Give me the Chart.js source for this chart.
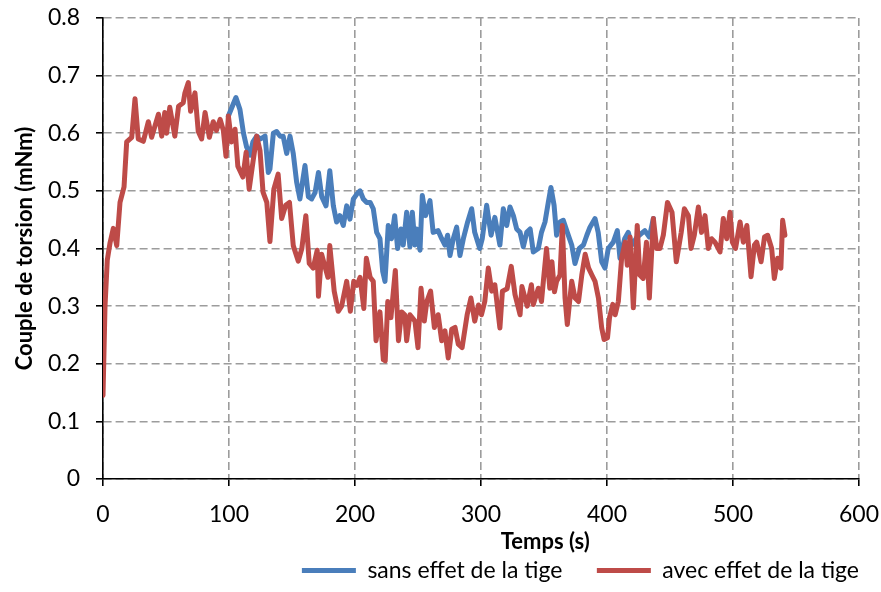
<!DOCTYPE html>
<html>
<head>
<meta charset="utf-8">
<script src="https://cdn.jsdelivr.net/npm/chart.js@4.4.1/dist/chart.umd.min.js"></script>
<style>
  body { margin: 0; background: #fff; }
  #wrap { width: 881px; height: 592px; }
</style>
</head>
<body>
<div id="wrap"><canvas id="torqueChart" width="881" height="592"></canvas></div>
<script>
// Series (time in s, torque in mNm)
const blueLabel = 'sans effet de la tige';
const redLabel = 'avec effet de la tige';

const blueTime = [99.5, 105.5, 108.7, 111.5, 114, 116.7, 119, 122, 125, 128.6, 131.2, 132.5, 135.2, 137.8, 140.5, 143, 145.8, 148.4, 151, 153.7,
  156.3, 160.3, 163, 165.6, 168.3, 171, 173.6, 177, 180, 182.8, 185.4, 188, 190.7, 193.4, 196, 198.7, 201.3, 204, 206.6, 209.3,
  212, 214.5, 217.2, 219.8, 222, 223.8, 226.4, 229, 231.5, 233.8, 236.5, 238.3, 241, 243.6, 245.5, 247.6, 249, 251.6, 253.4, 256,
  259.5, 262, 266, 268.8, 271.4, 273.5, 275.4, 278, 280.7, 283.3, 286, 289.4, 292.6, 295, 299, 301, 304.5, 308, 311, 315,
  317.7, 320.4, 323, 325.7, 328.3, 331, 333.6, 336.3, 339, 341.5, 345.5, 348, 350.8, 353.4, 355.5, 358, 360, 362.7, 365.3, 368.5,
  372, 374.6, 378, 381.3, 384, 386.5, 390.5, 393, 395.8, 398.4, 401, 405, 408.2, 410.3, 414, 416.9, 419.6, 424, 430, 433.6, 436.8];
const blueTorque = [0.63, 0.662, 0.641, 0.60, 0.576, 0.562, 0.585, 0.595, 0.59, 0.595, 0.532, 0.538, 0.60, 0.603, 0.595, 0.595, 0.565, 0.595, 0.565, 0.515,
  0.486, 0.544, 0.49, 0.486, 0.497, 0.532, 0.49, 0.474, 0.535, 0.474, 0.446, 0.457, 0.44, 0.474, 0.451, 0.486, 0.494, 0.50, 0.486, 0.48,
  0.48, 0.469, 0.428, 0.417, 0.36, 0.343, 0.44, 0.417, 0.457, 0.40, 0.434, 0.406, 0.463, 0.403, 0.463, 0.406, 0.434, 0.397, 0.492, 0.457,
  0.483, 0.428, 0.431, 0.417, 0.406, 0.423, 0.388, 0.417, 0.437, 0.388, 0.417, 0.446, 0.469, 0.428, 0.40, 0.417, 0.475, 0.423, 0.454, 0.406,
  0.469, 0.44, 0.472, 0.457, 0.434, 0.428, 0.403, 0.428, 0.434, 0.394, 0.40, 0.428, 0.446, 0.48, 0.506, 0.475, 0.423, 0.446, 0.449, 0.428,
  0.406, 0.374, 0.40, 0.406, 0.423, 0.437, 0.452, 0.428, 0.377, 0.366, 0.40, 0.411, 0.431, 0.383, 0.417, 0.428, 0.406, 0.42, 0.431, 0.42, 0.452];

const redTime = [0, 1.6, 3.4, 5.6, 8.2, 10.9, 13.5, 16.7, 18.8, 22.8, 25.4, 28, 32, 36, 38.6, 44, 46.6, 49, 50.5, 53,
  57, 60, 63.7, 65, 67.7, 69.5, 73, 75.6, 78.3, 81, 84.4, 87.5, 90, 93, 95.5, 97.6, 99.5, 102, 104.8, 107,
  111, 113.6, 116, 119, 122, 124.6, 127, 130, 132.5, 135.6, 139, 141.8, 145, 148, 151, 155, 157.8, 161, 163.7, 166.8,
  170, 171, 173.5, 176, 178.5, 180, 183.5, 186.7, 189.4, 193.4, 196.3, 199, 201.6, 204, 207, 209, 212, 214.5, 216.7, 219.8,
  222.5, 224, 226, 228.5, 232, 234.5, 237, 239.5, 241, 243.6, 247.6, 250, 252.4, 255, 257, 260, 263, 266, 268.8, 271.4,
  274, 276.8, 279.4, 282, 285, 289, 292, 295, 298, 300.4, 303, 305.8, 308.5, 311, 315, 317, 320.7, 324, 327, 331,
  332.5, 336.7, 340, 341.5, 345.5, 348, 349.7, 352, 354.6, 356.3, 358.3, 360, 362.7, 364.6, 366.7, 368.5, 372, 374.6, 377.4, 380,
  382.7, 385.4, 388, 390.5, 393.2, 395.8, 397.7, 400.4, 402, 404.6, 406.5, 409, 411.6, 414.4, 416.1, 418.3, 420.9, 424, 426, 428.7,
  431.3, 433.6, 436.8, 439.4, 442, 444.7, 448, 451.6, 455, 458.9, 461.4, 464.6, 466.7, 469.3, 472.5, 475, 477.8, 480.4, 483, 485.7,
  489.7, 492.3, 495, 497.6, 499.5, 502, 505.6, 508.2, 511, 514.3, 517, 518.8, 522.3, 525, 527.5, 530.7, 532.8, 535.4, 538, 539.4, 541.2];
const redTorque = [0.145, 0.30, 0.38, 0.41, 0.435, 0.405, 0.48, 0.507, 0.585, 0.593, 0.66, 0.59, 0.586, 0.62, 0.593, 0.633, 0.595, 0.636, 0.60, 0.645,
  0.595, 0.647, 0.653, 0.67, 0.688, 0.638, 0.67, 0.603, 0.59, 0.636, 0.593, 0.62, 0.605, 0.624, 0.605, 0.56, 0.63, 0.585, 0.607, 0.543,
  0.524, 0.567, 0.503, 0.55, 0.595, 0.57, 0.498, 0.48, 0.412, 0.503, 0.529, 0.452, 0.475, 0.48, 0.405, 0.378, 0.40, 0.457, 0.374, 0.366,
  0.397, 0.317, 0.39, 0.37, 0.35, 0.405, 0.326, 0.291, 0.30, 0.343, 0.291, 0.343, 0.336, 0.35, 0.296, 0.383, 0.35, 0.343, 0.24, 0.29,
  0.207, 0.205, 0.308, 0.28, 0.362, 0.24, 0.29, 0.285, 0.24, 0.285, 0.274, 0.228, 0.331, 0.274, 0.308, 0.326, 0.263, 0.285, 0.24, 0.257,
  0.21, 0.26, 0.263, 0.234, 0.228, 0.285, 0.314, 0.274, 0.302, 0.285, 0.308, 0.366, 0.326, 0.337, 0.262, 0.326, 0.33, 0.369, 0.32, 0.285,
  0.334, 0.30, 0.337, 0.303, 0.331, 0.308, 0.348, 0.40, 0.331, 0.377, 0.325, 0.343, 0.354, 0.44, 0.314, 0.268, 0.343, 0.314, 0.308, 0.354,
  0.39, 0.366, 0.354, 0.343, 0.314, 0.262, 0.242, 0.245, 0.28, 0.303, 0.285, 0.308, 0.383, 0.411, 0.371, 0.42, 0.297, 0.44, 0.354, 0.348,
  0.411, 0.314, 0.452, 0.40, 0.40, 0.423, 0.48, 0.463, 0.377, 0.428, 0.469, 0.457, 0.40, 0.423, 0.472, 0.428, 0.457, 0.40, 0.417, 0.411,
  0.394, 0.452, 0.417, 0.463, 0.411, 0.40, 0.446, 0.411, 0.44, 0.351, 0.406, 0.411, 0.377, 0.42, 0.423, 0.40, 0.348, 0.383, 0.366, 0.449, 0.423];

const xTitle = 'Temps (s)';
const yTitle = 'Couple de torsion (mNm)';

const FONT = 'Lato, "Open Sans", sans-serif';
const blue = '#4a7ebb';
const red = '#be4b48';

function toPoints(times, values) {
  return times.map((t, i) => ({ x: t, y: values[i] }));
}

// x axis title sits off-centre in the original, so it is drawn here
const xTitlePlugin = {
  id: 'xTitle',
  afterDraw(chart) {
    const { ctx, chartArea, scales } = chart;
    ctx.save();
    ctx.font = 'bold 22px ' + FONT;
    ctx.fillStyle = '#000';
    ctx.textAlign = 'center';
    ctx.textBaseline = 'middle';
    ctx.fillText(xTitle, chartArea.left + chartArea.width * 0.585, scales.x.bottom - 17);
    ctx.restore();
  }
};

const ctx = document.getElementById('torqueChart').getContext('2d');
new Chart(ctx, {
  type: 'line',
  data: {
    datasets: [{
      label: blueLabel,
      data: toPoints(blueTime, blueTorque),
      borderColor: blue,
      backgroundColor: blue,
      borderWidth: 5,
      pointRadius: 0,
      borderJoinStyle: 'round',
      borderCapStyle: 'round',
      order: 2
    }, {
      label: redLabel,
      data: toPoints(redTime, redTorque),
      borderColor: red,
      backgroundColor: red,
      borderWidth: 5,
      pointRadius: 0,
      borderJoinStyle: 'round',
      borderCapStyle: 'round',
      order: 1
    }]
  },
  options: {
    responsive: false,
    animation: false,
    devicePixelRatio: 1,
    layout: { padding: { left: 0, right: 22, top: 18, bottom: 0 } },
    scales: {
      x: {
        type: 'linear',
        min: 0,
        max: 600,
        ticks: { stepSize: 100, color: '#000', font: { family: FONT, size: 23 }, padding: 15 },
        grid: { color: '#9c9c9c', lineWidth: 1.6, tickColor: '#000', tickLength: 7, tickWidth: 1.6 },
        border: { display: true, color: '#000', width: 1.6, dash: [8, 4] },
        afterFit: s => { s.height = 80; s.paddingLeft = 0; s.paddingRight = 0; }
      },
      y: {
        min: 0,
        max: 0.8,
        ticks: { stepSize: 0.1, color: '#000', font: { family: FONT, size: 23 }, padding: 16 },
        grid: { color: '#9c9c9c', lineWidth: 1.6, tickColor: '#000', tickLength: 7, tickWidth: 1.6 },
        border: { display: true, color: '#000', width: 1.6, dash: [8, 4] },
        title: { display: true, text: yTitle, color: '#000', font: { family: FONT, size: 22, weight: 'bold' }, padding: { top: 12, bottom: 0 } },
        afterFit: s => { s.width = 103; s.paddingTop = 0; s.paddingBottom = 0; }
      }
    },
    plugins: {
      legend: {
        position: 'bottom',
        align: 'end',
        labels: {
          color: '#000',
          font: { family: FONT, size: 23 },
          boxWidth: 54,
          boxHeight: 5,
          padding: 0,
          sort: (a, b) => a.datasetIndex - b.datasetIndex,
          // wider gap after the first entry, as in the original
          generateLabels: chart => chart.data.datasets.map((ds, i) => ({
            text: i === 0 ? ds.label + '\u2003\u2003' : ds.label,
            fillStyle: ds.borderColor,
            strokeStyle: ds.borderColor,
            lineWidth: 0,
            fontColor: '#000',
            datasetIndex: i
          }))
        }
      },
      tooltip: { enabled: false }
    }
  },
  plugins: [xTitlePlugin]
});
</script>
</body>
</html>
